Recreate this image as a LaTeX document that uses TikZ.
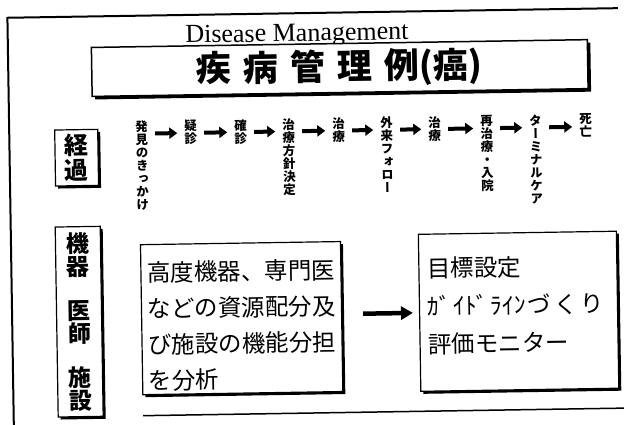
\documentclass[tikz,border=0pt]{standalone}
\usepackage{fontspec}
\setmainfont{Liberation Serif}
\newfontfamily\jp{Noto Sans CJK JP}
\newfontfamily\jpv[RawFeature=+vert]{Noto Sans CJK JP}
\usetikzlibrary{arrows.meta,shadows}
\tikzset{
  shbox/.style={draw, line width=1.2pt, fill=white,
    drop shadow={shadow xshift=2.5pt, shadow yshift=-2.5pt, opacity=1, fill=black}},
  vlab/.style={font=\jpv\bfseries\fontsize{12.5}{13}\selectfont, align=center,
    anchor=north, inner xsep=7pt, inner ysep=0pt},
  rowarr/.style={line width=4pt, -{Triangle[length=8pt,width=11pt]}},
  bigarr/.style={line width=4.5pt, -{Triangle[length=12pt,width=13pt]}},
  boxtext/.style={anchor=base west, inner sep=0pt, text width=196pt, align=left}
}
\begin{document}
\begin{tikzpicture}[x=1pt,y=-1pt]
\useasboundingbox (0,0) rectangle (624,425);
\fill[white] (0,0) rectangle (624,425);
\begin{scope}[rotate around={0.9:(312,212)}, transform shape]
% outer frame
\draw[line width=2pt] (10.5,432) coordinate (fbl) -- (10.5,13) coordinate (ftl) -- (621,13) coordinate (ftr);
\draw[line width=1.5pt] (140,413) coordinate (bl) -- (626,413) coordinate (br);
% heading
\node (dm) [anchor=base west, inner sep=0pt, font=\fontsize{26}{26}\selectfont] at (188,41) {Disease Management};
\node (tbox) [draw, line width=1.5pt, fill=white,
  drop shadow={shadow xshift=3pt, shadow yshift=-3pt, opacity=1, fill=black},
  minimum width=496pt, minimum height=49pt, inner sep=0pt,
  font=\jp\bfseries\fontsize{35}{35}\selectfont] at (342,68.5)
  {疾\hspace{12pt}病\hspace{12pt}管\hspace{12pt}理\hspace{12pt}例(癌)};
% row label
\node (keika) [shbox, minimum width=43pt, minimum height=56pt, inner sep=0pt, align=center,
  font=\jp\bfseries\fontsize{24}{25}\selectfont] at (77.5,154) {経\\過};
% course of disease
\node (v1) [vlab] at (143,118) {発\\見\\の\\き\\っ\\か\\け};
\node (v2) [vlab] at (192,118) {疑\\診};
\node (v3) [vlab] at (242,118) {確\\診};
\node (v4) [vlab] at (290,118) {治\\療\\方\\針\\決\\定};
\node (v5) [vlab] at (340,118) {治\\療};
\node (v6) [vlab] at (388,118) {外\\来\\フ\\ォ\\ロ\\ー};
\node (v7) [vlab] at (436,118) {治\\療};
\node (v8) [vlab] at (488,118) {再\\治\\療\\・\\入\\院};
\node (v9) [vlab] at (537,118) {タ\\ー\\ミ\\ナ\\ル\\ケ\\ア};
\node (v10) [vlab] at (587,118) {死\\亡};
\foreach \a/\b in {v1/v2,v2/v3,v3/v4,v4/v5,v5/v6,v6/v7,v7/v8,v8/v9,v9/v10}
  \draw[rowarr] ([yshift=-13pt]\a.north east) -- ([yshift=-13pt]\b.north west);
% resources label
\node (kiki) [shbox, minimum width=45pt, minimum height=190pt, inner sep=0pt, align=center,
  font=\jp\bfseries\fontsize{23}{23}\selectfont] at (77.5,318)
  {機\\器\\[21pt]医\\師\\[21pt]施\\設};
% content boxes
\node (lbox) [shbox, minimum width=200pt, minimum height=150pt] at (240,317) {};
\node (ltxt) [boxtext, font=\jp\fontsize{23.5}{36}\selectfont] at (146,279)
  {高度機器、専門医\\などの資源配分及\\び施設の機能分担\\を分析};
\node (rbox) [shbox, minimum width=198pt, minimum height=157pt] at (517,314.5) {};
\node (rtxt) [boxtext, font=\jp\fontsize{23.5}{38}\selectfont] at (426,279)
  {目標設定\\ｶﾞ\hspace{2pt}ｲﾄﾞ\hspace{2pt}ﾗｲﾝ\hspace{2pt}づ\hspace{3pt}く\hspace{3pt}り\\評価モニター};
\draw[bigarr, shorten <=21pt, shorten >=6pt] (lbox.east |- rbox.west) -- (rbox.west);
\end{scope}
\end{tikzpicture}
\end{document}
